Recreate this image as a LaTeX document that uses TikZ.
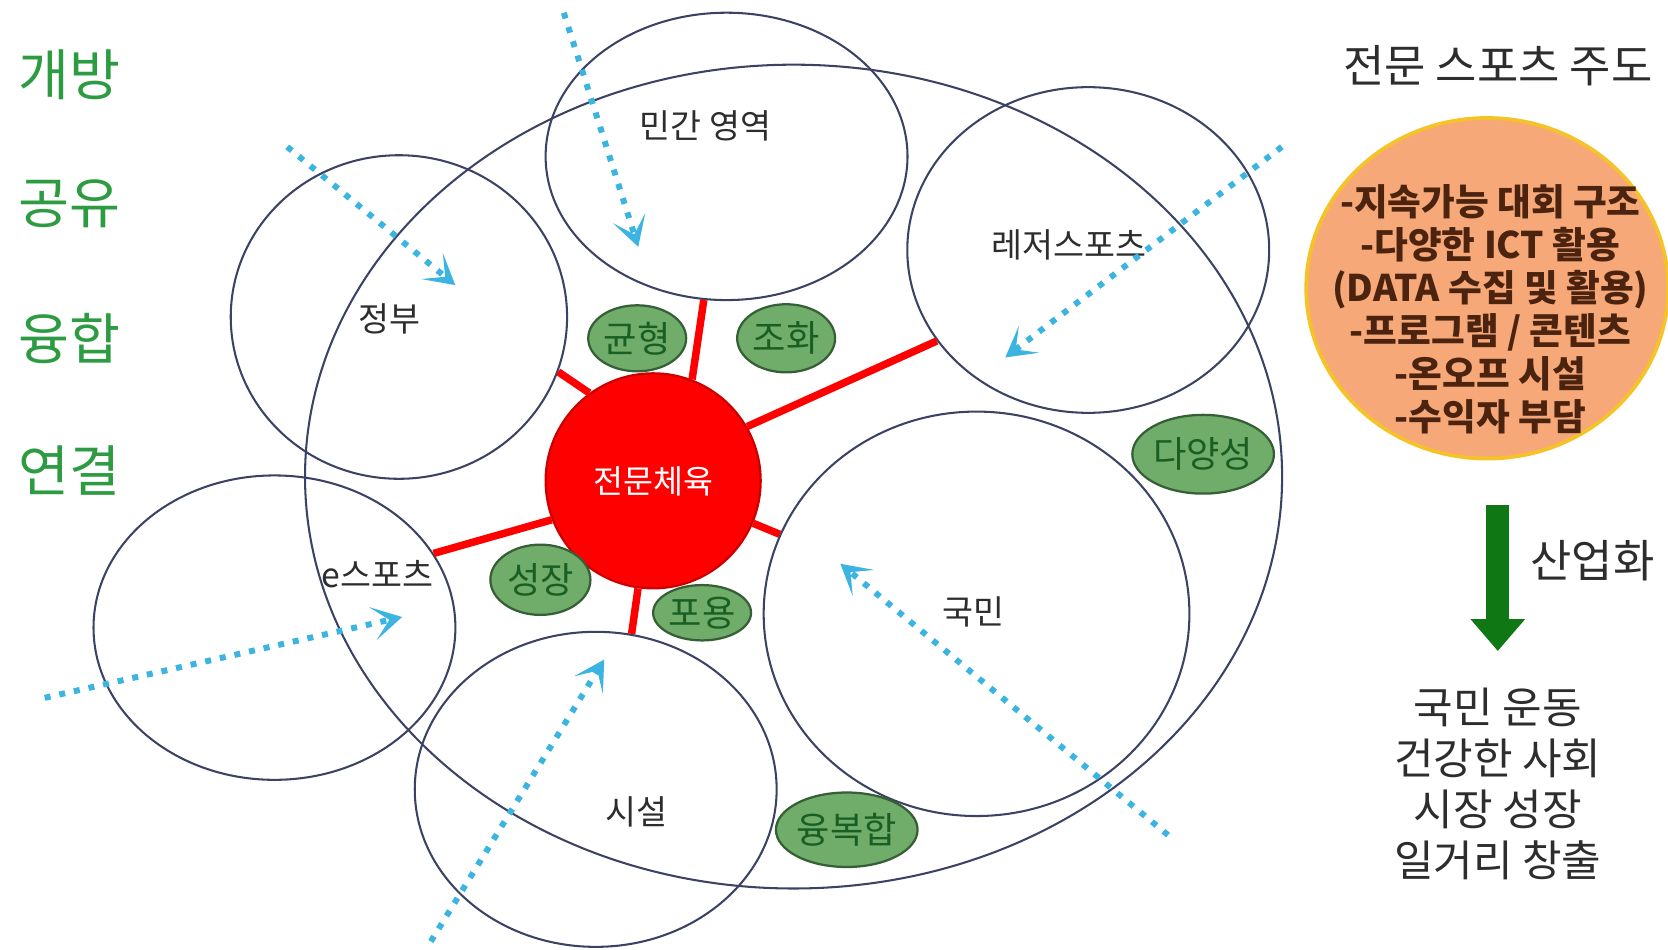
\documentclass[tikz,border=0pt]{standalone}
\usepackage{fontspec}
\setmainfont{Noto Sans CJK KR}
\usetikzlibrary{shapes.geometric,arrows.meta}
\definecolor{ringcol}{RGB}{60,66,100}
\definecolor{dotblue}{RGB}{60,180,225}
\definecolor{leafgreen}{RGB}{112,172,106}
\definecolor{leafedge}{RGB}{55,95,55}
\definecolor{leaftext}{RGB}{25,95,35}
\definecolor{wordgreen}{RGB}{45,155,65}
\definecolor{peach}{RGB}{246,168,120}
\definecolor{goldline}{RGB}{245,195,40}
\definecolor{browntext}{RGB}{75,35,15}
\definecolor{arrowgreen}{RGB}{15,120,20}
\definecolor{inktext}{RGB}{45,45,45}
\begin{document}
\begin{tikzpicture}[x=0.01cm,y=-0.01cm,
  oval/.style 2 args={ellipse, inner sep=0pt, minimum width=#1*0.2mm, minimum height=#2*0.2mm},
  ringline/.style={draw=ringcol, line width=0.55pt},
  leaf/.style={fill=leafgreen, draw=leafedge, line width=0.6pt, text=leaftext, font=\fontsize{9.7pt}{11pt}\selectfont},
  lbl/.style={text=inktext, font=\fontsize{9pt}{11pt}\selectfont, inner sep=0pt},
  spoke/.style={draw=red, line width=2pt},
  flow/.style={draw=dotblue, line width=1.6pt, dash pattern=on 1.6pt off 2.4pt, -{Stealth[length=8pt,width=9pt,inset=4.5pt]}},
  word/.style={text=wordgreen, font=\fontsize{14.8pt}{16pt}\selectfont, inner sep=0pt},
]
\useasboundingbox (0,0) rectangle (1568,893);

% outer region and domain circles
\node[ringline, oval={459}{387}] (world) at (746,448) {};
\node[ringline, oval={170}{135}] (private) at (683,147) {};
\node[ringline, oval={158}{152}] (gov) at (375,298) {};
\node[ringline, oval={170}{153}] (leisure) at (1023,235) {};
\node[ringline, oval={170}{143}] (esport) at (258,590) {};
\node[ringline, oval={170}{148}] (facility) at (560,742) {};
\node[ringline, oval={200}{190}] (people) at (918,577) {};

% labels of circles
\node[lbl] (privateL) at (663,118) {민간 영역};
\node[lbl] (govL) at (366,300) {정부};
\node[lbl] (leisureL) at (1005,230) {레저스포츠};
\node[lbl] (esportL) at (355,540) {e스포츠};
\node[lbl] (facilityL) at (598,763) {시설};
\node[lbl] (peopleL) at (915,575) {국민};

% core
\node[circle, fill=red, draw=red!80!black, line width=0.6pt, minimum size=202*0.1mm, inner sep=0pt,
      text=white, font=\fontsize{8.7pt}{10pt}\selectfont] (core) at (614,452) {전문체육};
\draw[spoke] (core.126) -- (gov.-19);
\draw[spoke] (core.69) -- (private.261);
\draw[spoke] (core.30) -- (leisure.211);
\draw[spoke] (core.201) -- (esport.25);
\draw[spoke] (core.-23) -- (people.158);
\draw[spoke] (core.262) -- (facility.77);

% value ellipses
\node[leaf, oval={46}{31}] (balance) at (599,318) {균형};
\node[leaf, oval={46}{32}] (harmony) at (739,318) {조화};
\node[leaf, oval={61}{37}] (diversity) at (1131,427) {다양성};
\node[leaf, oval={47}{33}] (growth) at (508,545) {성장};
\node[leaf, oval={46}{26}] (inclusion) at (660,576) {포용};
\node[leaf, oval={56}{35}] (fusion) at (796,780) {융복합};

% inflow arrows
\coordinate (f1s) at (270,138); \coordinate (f1e) at (428,268);
\coordinate (f2s) at (530,12);  \coordinate (f2e) at (600,232);
\coordinate (f3s) at (1205,138); \coordinate (f3e) at (945,336);
\coordinate (f4s) at (42,656);  \coordinate (f4e) at (378,580);
\coordinate (f5s) at (405,885); \coordinate (f5e) at (568,620);
\coordinate (f6s) at (1098,785); \coordinate (f6e) at (790,530);
\draw[flow] (f1s) -- (f1e);
\draw[flow] (f2s) -- (f2e);
\draw[flow] (f3s) -- (f3e);
\draw[flow] (f4s) -- (f4e);
\draw[flow] (f5s) -- (f5e);
\draw[flow] (f6s) -- (f6e);

% left keywords
\node[word] (open) at (65,70) {개방};
\node[word] (share) at (65,192) {공유};
\node[word] (merge) at (65,318) {융합};
\node[word] (link) at (65,442) {연결};

% right column
\node[text=inktext, font=\fontsize{12pt}{13pt}\selectfont, inner sep=0pt] (lead) at (1408,62) {전문 스포츠 주도};
\node[oval={170}{160}, fill=peach, draw=goldline, line width=1pt] (plan) at (1398,271) {};
\node[text=browntext, font=\bfseries\fontsize{9.8pt}{11.5pt}\selectfont, align=center, inner sep=0pt] (planT) at (1401,291)
  {-지속가능 대회 구조\\-다양한 ICT 활용\\(DATA 수집 및 활용)\\-프로그램 / 콘텐츠\\-온오프 시설\\-수익자 부담};
\coordinate (g1) at (1408,475); \coordinate (g2) at (1408,612);
\draw[arrowgreen, line width=6.2pt, -{Triangle[length=8.5pt,width=14pt]}] (g1) -- (g2);
\node[text=inktext, font=\fontsize{12pt}{13pt}\selectfont, inner sep=0pt] (indus) at (1497,527) {산업화};
\node[text=inktext, font=\fontsize{11.5pt}{13.6pt}\selectfont, align=center, inner sep=0pt] (result) at (1408,737)
  {국민 운동\\건강한 사회\\시장 성장\\일거리 창출};
\end{tikzpicture}
\end{document}
